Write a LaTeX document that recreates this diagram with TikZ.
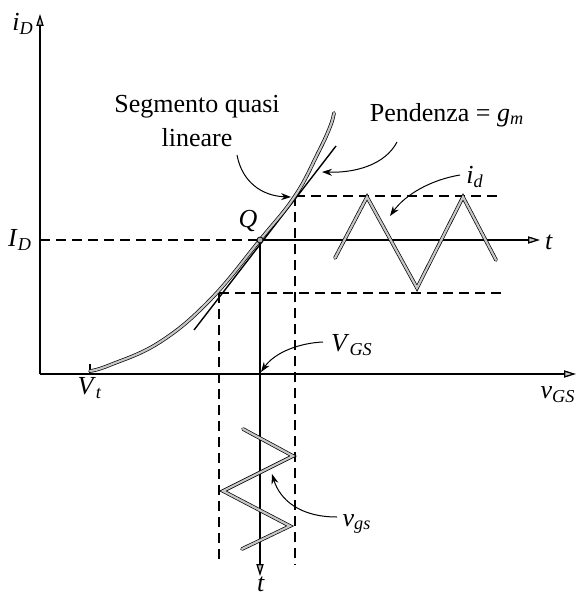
\documentclass[tikz,border=0pt]{standalone}
\usepackage{fontspec}
\setmainfont{Liberation Serif}
\usetikzlibrary{arrows.meta}
\newcommand\symb[2]{\textit{#1}\textsubscript{\textit{#2}}}
\begin{document}
\begin{tikzpicture}[x=0.5pt,y=-0.5pt,
  font=\fontsize{13}{15}\selectfont,
  axis/.style={line width=0.65pt,-{Triangle[length=6pt,width=3.6pt,fill=gray!40]}},
  sig/.style={line width=0.35pt,double=gray!45,double distance=1.1pt,line cap=round},
  dsh/.style={line width=0.6pt,dash pattern=on 5pt off 3pt},
  ann/.style={line width=0.5pt,-{Stealth[length=5pt,width=3.5pt]}},
  lab/.style={inner sep=0.5pt}]
\useasboundingbox (0,0) rectangle (577,598);

% coordinates
\coordinate (O) at (40,374);
\coordinate (Ytop) at (40,14);
\coordinate (Xend) at (576,374);
\coordinate (Vt) at (90,374);
\coordinate (VtTop) at (90,364);
\coordinate (Q) at (260,240);
\coordinate (QL) at (40,240);
\coordinate (Tr) at (540,240);
\coordinate (Tb) at (260,576);
\coordinate (VGS) at (261,372);
\coordinate (Pu) at (295,196);
\coordinate (Pl) at (219,293);
\coordinate (PuE) at (498,196);
\coordinate (PlE) at (503,293);
\coordinate (PuB) at (295,565);
\coordinate (PlB) at (219,560);
\coordinate (Tg1) at (194,330);
\coordinate (Tg2) at (336,146);

% axes
\draw[axis] (O) -- (Ytop);
\draw[axis] (O) -- (Xend);
\draw[line width=0.6pt] (Vt) -- (VtTop);

% dashed guides
\draw[dsh] (QL) -- (Q);
\draw[dsh] (Pu) -- (PuE);
\draw[dsh] (Pl) -- (PlE);
\draw[dsh] (Pu) -- (PuB);
\draw[dsh] (Pl) -- (PlB);

% time axes from Q
\draw[axis] (Q) -- (Tr);
\draw[axis] (Q) -- (Tb);

% tangent
\draw[line width=0.7pt] (Tg1) -- (Tg2);

% characteristic curve
\draw[sig] plot[smooth,tension=0.7] coordinates {(90,371) (110,365) (160,342) (210,300) (260,240) (295,196) (318,153) (330,127) (334,113)};

% Q point
\fill[gray!60,draw=black,line width=0.4pt] (Q) circle (3);

% signals
\draw[sig] (335,258) -- (367,197) -- (417,288) -- (463,197) -- (496,260);
\draw[sig] (243,429) -- (293,456) -- (223,491) -- (290,526) -- (242,549);

% labels
\node[lab] (lSeg1) at (197,107) {Segmento quasi};
\node[lab] (lSeg2) at (197,138) {lineare};
\node[lab] (lPen) at (447,115) {Pendenza = \symb{g}{m}};
\node[lab] (lid) at (475,177) {\symb{i}{d}};
\node[lab] (lQ) at (248,221) {\textit{Q}};
\node[lab] (lID) at (20,240) {\symb{I}{D}};
\node[lab] (liD) at (23,24) {\symb{i}{D}};
\node[lab] (lVt) at (90,388) {\symb{V}{t}};
\node[lab] (lVGS) at (352,345) {\symb{V}{GS}};
\node[lab] (lvGS) at (558,395) {\symb{v}{GS}};
\node[lab] (lvgs) at (357,524) {\symb{v}{gs}};
\node[lab] (lt1) at (549,242) {\textit{t}};
\node[lab] (lt2) at (261,584) {\textit{t}};

% annotation arrows
\coordinate (aSeg) at (237,155);
\coordinate (aPen) at (397,142);
\coordinate (aid) at (460,175);
\coordinate (aVGS) at (323,342);
\coordinate (avgs) at (337,517);
\draw[ann] (aSeg) .. controls (242,182) and (262,196) .. (291,197);
\draw[ann] (aPen) .. controls (385,165) and (355,173) .. (322,172);
\draw[ann] (aid) .. controls (430,180) and (405,195) .. (390,216);
\draw[ann] (aVGS) .. controls (300,343) and (275,352) .. (VGS);
\draw[ann] (avgs) .. controls (300,517) and (280,500) .. (272,474);
\end{tikzpicture}
\end{document}
